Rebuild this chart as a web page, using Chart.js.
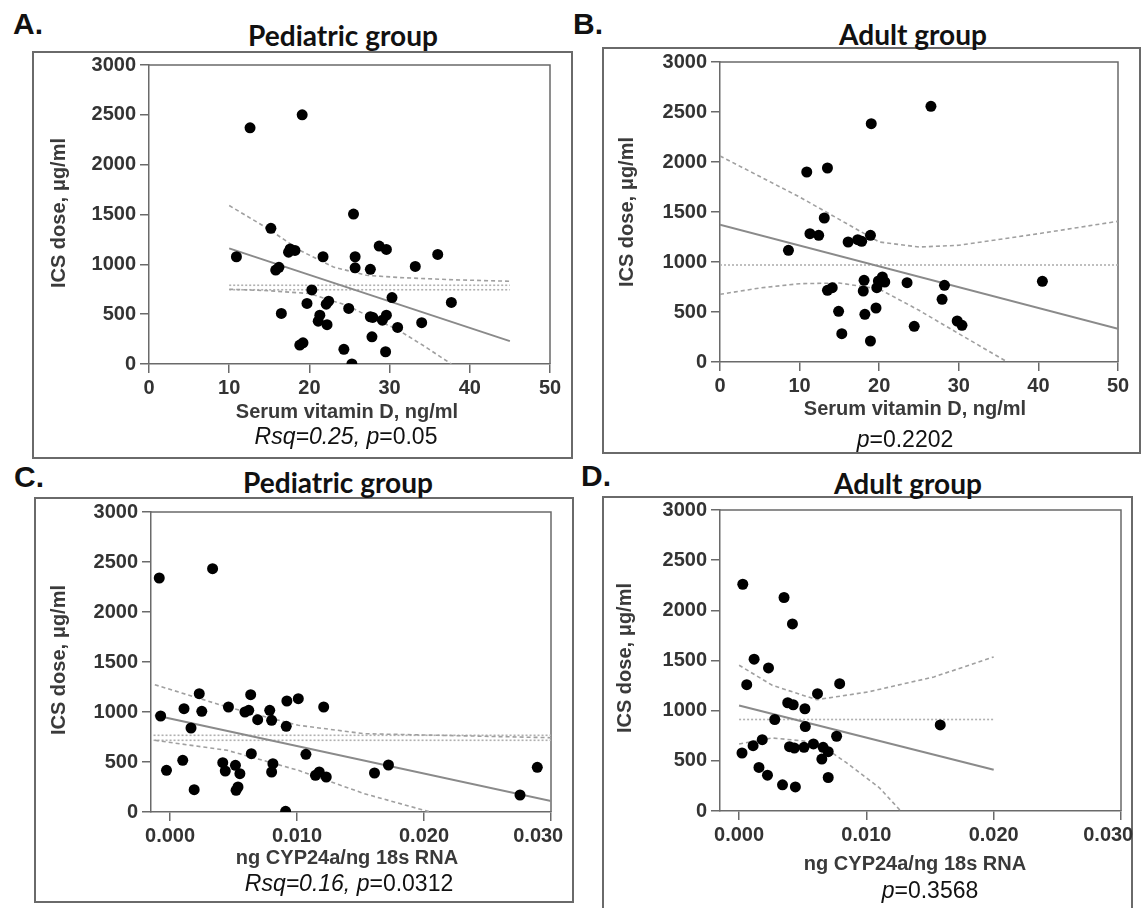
<!DOCTYPE html>
<html><head><meta charset="utf-8">
<script src="https://cdn.jsdelivr.net/npm/chart.js@4.4.0/dist/chart.umd.min.js"></script>
<style>
html,body{margin:0;padding:0;background:#fff;}
#root{position:relative;width:1142px;height:908px;overflow:hidden;background:#fff;}
.box{position:absolute;border:2px solid #6a6a6a;box-sizing:border-box;}
.t{position:absolute;white-space:nowrap;line-height:1;}
canvas{position:absolute;}
</style></head><body><div id="root"></div>
<script>
// ---------- DATA ----------
const doseTicks = [0, 500, 1000, 1500, 2000, 2500, 3000];
const doseLabels = ['0', '500', '1000', '1500', '2000', '2500', '3000'];
const vitDTicks = [0, 10, 20, 30, 40, 50];
const vitDLabels = ['0', '10', '20', '30', '40', '50'];
const cypTicks = [0, 0.01, 0.02, 0.03];
const cypLabels = ['0.000', '0.010', '0.020', '0.030'];

// A. Pediatric group: serum vitamin D vs ICS dose
const aVitD = [10.9,12.6,19.1,15.2,15.8,16.2,16.5,17.4,17.6,18.2,18.8,19.2,20.3,19.7,21.7,21.3,21.1,22.2,22.1,22.4,24.3,24.9,25.3,25.5,25.7,25.7,27.6,27.9,27.6,27.8,28.7,29.6,29.1,29.6,29.5,30.3,31.0,33.2,34.0,36.0,37.7];
const aDose = [1076,2370,2500,1361,943,970,507,1122,1155,1139,190,213,743,608,1076,490,430,395,600,630,147,557,0,1504,1076,965,474,467,950,273,1183,1150,440,490,123,667,367,979,415,1099,618];
const aFitX = [10, 45];
const aFitY = [1160, 230];
const aUpperX = [10, 15, 18.8, 23, 27.1, 31.3, 38, 45];
const aUpperY = [1590, 1350, 1140, 973, 890, 867, 845, 830];
const aLowerX = [10, 15, 20, 24.6, 28.4, 30.9, 34.3, 37.7];
const aLowerY = [750, 735, 707, 590, 440, 350, 180, 0];
const aMeanX = [10, 45];
const aMean1 = [790, 790];
const aMean2 = [745, 745];

// B. Adult group: serum vitamin D vs ICS dose
const bVitD = [8.6,10.9,13.5,11.3,12.4,13.1,13.5,14.1,14.9,15.3,16.1,17.3,17.8,18.9,19.0,18.1,18.0,18.2,18.9,19.6,19.7,19.9,20.4,20.7,23.5,24.4,26.5,27.9,28.2,29.8,30.4,40.5];
const bDose = [1117,1900,1940,1283,1267,1440,717,743,507,283,1200,1223,1207,1267,2383,817,710,477,210,540,743,810,850,800,793,357,2557,627,767,410,367,807];
const bFitX = [0, 50];
const bFitY = [1373, 333];
const bUpperX = [0, 10, 20, 25, 30, 40, 50];
const bUpperY = [2060, 1650, 1200, 1150, 1167, 1283, 1407];
const bLowerX = [0, 5, 10, 15, 20, 25, 30, 36.1];
const bLowerY = [677, 740, 783, 790, 730, 517, 283, 0];
const bMeanX = [0, 50];
const bMean = [970, 970];

// C. Pediatric group: CYP24a expression vs ICS dose
const cCyp = [-0.00085,-0.00074,-0.00028,0.0010,0.0011,0.00165,0.0019,0.0023,0.0025,0.00335,0.00415,0.00435,0.0046,0.00515,0.0052,0.00535,0.0055,0.0059,0.0062,0.00635,0.0064,0.0069,0.00785,0.0080,0.0081,0.0080,0.00915,0.0092,0.0091,0.0101,0.0107,0.01145,0.01175,0.0121,0.0123,0.0161,0.0172,0.02756,0.02892];
const cDose = [2340,960,417,517,1033,840,223,1183,1007,2433,493,410,1050,467,217,250,383,1000,1017,1173,583,923,1017,917,483,400,857,1110,7,1133,577,367,400,1050,350,390,470,170,447];
const cFitX = [-0.0012, 0.030];
const cFitY = [967, 110];
const cUpperX = [-0.0012, 0.0045, 0.0101, 0.0153, 0.030];
const cUpperY = [1273, 1050, 867, 783, 743];
const cLowerX = [-0.0012, 0.0045, 0.0101, 0.0153, 0.0205];
const cLowerY = [717, 617, 417, 183, 0];
const cMeanX = [-0.0013, 0.030];
const cMean1 = [767, 767];
const cMean2 = [717, 717];

// D. Adult group: CYP24a expression vs ICS dose
const dCyp = [0.00029,0.00023,0.0006,0.0011,0.00118,0.00156,0.00182,0.00223,0.00231,0.0028,0.00341,0.00353,0.00382,0.00396,0.00419,0.00425,0.00434,0.00442,0.0051,0.00517,0.0052,0.00584,0.00616,0.0066,0.0065,0.0070,0.0070,0.00766,0.0079,0.0158];
const dDose = [2260,578,1259,651,1513,434,711,357,1426,912,261,2128,1079,641,1864,1059,628,240,635,1019,842,668,1169,635,518,591,334,745,1269,858];
const dFitX = [0, 0.020];
const dFitY = [1052, 411];
const dUpperX = [0, 0.0026, 0.0061, 0.0101, 0.0153, 0.020];
const dUpperY = [1453, 1253, 1109, 1186, 1336, 1536];
const dLowerX = [0, 0.0026, 0.0061, 0.0084, 0.011, 0.0127];
const dLowerY = [668, 728, 685, 484, 234, 0];
const dMeanX = [0, 0.020];
const dMean = [912, 912];

// ---------- RENDER ----------
const root = document.getElementById('root');
const AX = '#6a6a6a';
const TXT = '#333333';
const SANS = '"Liberation Sans", Arial, sans-serif';

function box(l, t, r, b) {
  const d = document.createElement('div');
  d.className = 'box';
  Object.assign(d.style, {left: l + 'px', top: t + 'px', width: (r - l) + 'px', height: (b - t) + 'px'});
  root.appendChild(d);
}
function text(html, x, y, css, align, rotate) {
  const d = document.createElement('div');
  d.className = 't';
  d.innerHTML = html;
  Object.assign(d.style, css);
  d.style.left = x + 'px';
  d.style.top = y + 'px';
  const tx = align === 'left' ? '0' : '-50%';
  d.style.transform = 'translate(' + tx + ',-50%)' + (rotate ? ' rotate(-90deg)' : '');
  root.appendChild(d);
  return d;
}
function fitTitle(str, cx, cy, width) {
  const c = document.createElement('canvas').getContext('2d');
  c.font = 'bold 26px Lato';
  const w = c.measureText(str).width;
  const size = 26 * width / w;
  text(str, cx, cy, {font: 'bold ' + size.toFixed(2) + 'px Lato', color: '#111'});
}

const PADL = 90, PADT = 20, PADR = 45, PADB = 45;
const pts = (xs, ys) => xs.map((x, i) => ({x: x, y: ys[i]}));

const framePlugin = {
  id: 'frame',
  beforeDatasetsDraw(chart) {
    const a = chart.chartArea, ctx = chart.ctx;
    ctx.save();
    ctx.strokeStyle = AX; ctx.lineWidth = 1.5;
    ctx.beginPath();
    ctx.moveTo(a.left, a.top); ctx.lineTo(a.right, a.top); ctx.lineTo(a.right, a.bottom);
    ctx.stroke();
    ctx.restore();
  }
};

function lineDs(xs, ys, color, width, dash) {
  return {data: pts(xs, ys), showLine: true, pointRadius: 0, borderColor: color, borderWidth: width,
          borderDash: dash, fill: false, order: 2, clip: 0};
}

function panel(p) {
  const W = (p.R - p.L) + PADL + PADR, H = (p.B - p.T) + PADT + PADB;
  const cv = document.createElement('canvas');
  cv.width = W; cv.height = H;
  Object.assign(cv.style, {left: (p.L - PADL) + 'px', top: (p.T - PADT) + 'px', width: W + 'px', height: H + 'px'});
  root.appendChild(cv);
  const tickFont = {family: SANS, size: 20, weight: 'bold'};
  const datasets = [
    {data: pts(p.xs, p.ys), showLine: false, pointRadius: 5.5, pointHoverRadius: 5.5,
     pointBackgroundColor: '#000', pointBorderColor: '#000', pointBorderWidth: 0, order: 0,
     clip: {left: 8, right: 8, top: 8, bottom: 0}},
    lineDs(p.fitX, p.fitY, '#8a8a8a', 2, []),
    lineDs(p.upX, p.upY, '#a0a0a0', 1.6, [4, 3]),
    lineDs(p.loX, p.loY, '#a0a0a0', 1.6, [4, 3])
  ];
  p.means.forEach(m => datasets.push(lineDs(p.meanX, m, '#b0b0b0', 1.6, [2, 2])));
  // the last x label of the CYP axes sits a little left of its tick in the original
  const xLabel = (v, i) => p.xLabels[i] + (p.shiftLast && i === p.xLabels.length - 1 ? '\u2002\u2002 ' : '');
  new Chart(cv, {
    type: 'scatter',
    data: {datasets: datasets},
    plugins: [framePlugin],
    options: {
      responsive: false, animation: false, devicePixelRatio: 1,
      layout: {padding: {left: 0, top: PADT, right: PADR, bottom: 0}, autoPadding: false},
      plugins: {legend: {display: false}, tooltip: {enabled: false}},
      events: [],
      scales: {
        x: {
          type: 'linear', min: p.xMin, max: p.xMax,
          afterBuildTicks: s => { s.ticks = p.xTicks.map(v => ({value: v})); },
          afterFit: s => { s.height = PADB; },
          ticks: {callback: xLabel, font: tickFont, color: TXT, padding: 3, maxRotation: 0, autoSkip: false},
          grid: {display: true, drawOnChartArea: false, drawTicks: true, tickLength: 9, color: AX, lineWidth: 1.5},
          border: {display: true, color: AX, width: 1.5}
        },
        y: {
          type: 'linear', min: 0, max: 3000,
          afterBuildTicks: s => { s.ticks = doseTicks.map(v => ({value: v})); },
          afterFit: s => { s.width = PADL; },
          ticks: {callback: (v, i) => doseLabels[i], font: tickFont, color: TXT, padding: 4, autoSkip: false},
          grid: {display: true, drawOnChartArea: false, drawTicks: true, tickLength: 9, color: AX, lineWidth: 1.5},
          border: {display: true, color: AX, width: 1.5}
        }
      }
    }
  });
}

// panel frames
box(32, 51, 573, 459);
box(602, 47, 1141, 454);
box(34, 497, 574, 903);
box(602, 496, 1133, 915);

// panel letters
const letterCss = {font: 'bold 30px ' + SANS, color: '#111'};
text('A.', 13, 23.5, letterCss, 'left');
text('B.', 573, 23.5, letterCss, 'left');
text('C.', 14, 477, letterCss, 'left');
text('D.', 581, 475.5, letterCss, 'left');

// titles
fitTitle('Pediatric group', 343, 35, 190);
fitTitle('Adult group', 913, 34, 148);
fitTitle('Pediatric group', 338, 482, 190);
fitTitle('Adult group', 908, 483, 148);

// charts
panel({L: 149, T: 65, R: 550, B: 364, xMin: 0, xMax: 50, xTicks: vitDTicks, xLabels: vitDLabels,
       xs: aVitD, ys: aDose, fitX: aFitX, fitY: aFitY, upX: aUpperX, upY: aUpperY, loX: aLowerX, loY: aLowerY,
       meanX: aMeanX, means: [aMean1, aMean2]});
panel({L: 720, T: 62, R: 1118, B: 362, xMin: 0, xMax: 50, xTicks: vitDTicks, xLabels: vitDLabels,
       xs: bVitD, ys: bDose, fitX: bFitX, fitY: bFitY, upX: bUpperX, upY: bUpperY, loX: bLowerX, loY: bLowerY,
       meanX: bMeanX, means: [bMean]});
panel({L: 151, T: 512, R: 551, B: 812, xMin: -0.0015, xMax: 0.030, xTicks: cypTicks, xLabels: cypLabels, shiftLast: true,
       xs: cCyp, ys: cDose, fitX: cFitX, fitY: cFitY, upX: cUpperX, upY: cUpperY, loX: cLowerX, loY: cLowerY,
       meanX: cMeanX, means: [cMean1, cMean2]});
panel({L: 720, T: 510, R: 1121, B: 811, xMin: -0.0015, xMax: 0.030, xTicks: cypTicks, xLabels: cypLabels, shiftLast: true,
       xs: dCyp, ys: dDose, fitX: dFitX, fitY: dFitY, upX: dUpperX, upY: dUpperY, loX: dLowerX, loY: dLowerY,
       meanX: dMeanX, means: [dMean]});

// axis titles
const axCss = {font: 'bold 20px ' + SANS, color: '#3a3a3a'};
text('ICS dose, μg/ml', 58, 213, axCss, 'center', true);
text('ICS dose, μg/ml', 626, 212, axCss, 'center', true);
text('ICS dose, μg/ml', 58, 660, axCss, 'center', true);
text('ICS dose, μg/ml', 624, 658, axCss, 'center', true);
text('Serum vitamin D, ng/ml', 347, 411, axCss);
text('Serum vitamin D, ng/ml', 915, 408, axCss);
text('ng CYP24a/ng 18s RNA', 347, 857, axCss);
text('ng CYP24a/ng 18s RNA', 915, 863, axCss);

// statistics
const stCss = {font: '23px ' + SANS, color: '#111'};
text('<i>Rsq=0.25, p</i>=0.05', 346, 436, stCss);
text('<i>p</i>=0.2202', 905, 439, stCss);
text('<i>Rsq=0.16, p</i>=0.0312', 349, 883, stCss);
text('<i>p</i>=0.3568', 930, 890, stCss);
</script></body></html>
